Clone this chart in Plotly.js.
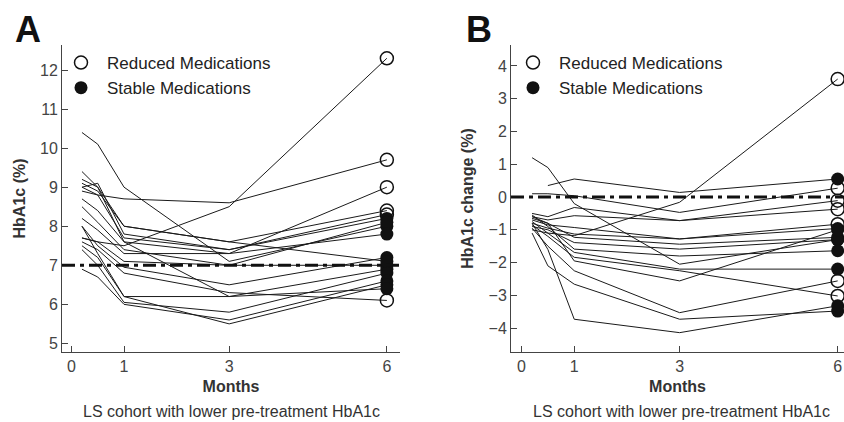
<!DOCTYPE html>
<html>
<head>
<meta charset="utf-8">
<script src="https://cdn.plot.ly/plotly-3.0.1.min.js"></script>
<style>html,body{margin:0;padding:0;background:#fff}#chart{width:844px;height:422px}</style>
</head>
<body>
<div id="chart"></div>
<script>
// Measurement times (months); first point is the pre-treatment baseline visit
const times = [0.2, 0.5, 1, 3, 6];

// Panel A: HbA1c (%) per subject at each time
const hba1cA = [
  [10.4, 10.1, 9.0, 7.1, 8.0],
  [9.0, 8.8, 8.7, 8.6, 9.7],
  [7.7, 7.6, 7.5, 8.5, 12.3],
  [9.4, 9.0, 7.6, 7.3, 9.0],
  [9.2, 9.0, 8.0, 7.6, 8.4],
  [9.0, 9.1, 7.8, 7.4, 8.3],
  [8.9, 8.8, 7.7, 7.4, 8.2],
  [8.5, 8.1, 7.4, 7.0, 8.1],
  [8.2, 7.9, 7.3, 7.3, 7.8],
  [8.0, 7.5, 6.95, 6.5, 7.2],
  [7.7, 7.6, 7.1, 7.0, 7.0],
  [7.6, 7.4, 6.8, 6.3, 6.1],
  [7.5, 7.2, 6.2, 6.2, 6.9],
  [7.4, 7.0, 6.05, 5.8, 6.8],
  [6.9, 6.7, 6.0, 5.6, 6.6],
  [8.0, 7.3, 6.2, 5.5, 6.5],
  [8.7, 8.4, 7.6, 6.2, 6.4],
  [9.1, 8.9, 8.0, 7.6, 7.1]
];
const groupA = ["S","R","R","R","R","R","S","S","S","S","S","R","S","S","S","S","S","S"];

// Panel B: HbA1c change (%) per subject at each time
const changeB = [
  [1.2, 0.9, -0.2, -2.05, -1.3],
  [null, 0.35, 0.55, 0.14, 0.55],
  [-1.0, -1.1, -1.18, -0.16, 3.6],
  [0.1, 0.1, 0.04, -0.47, 0.27],
  [-0.5, -0.6, -0.32, -0.72, -0.11],
  [-0.6, -0.7, -0.57, -0.72, -0.37],
  [-0.7, -0.85, -0.93, -1.28, -0.83],
  [-0.8, -0.95, -1.13, -1.28, -0.96],
  [-0.65, -0.8, -1.23, -1.44, -1.23],
  [-0.9, -1.0, -1.39, -1.59, -1.3],
  [-0.55, -0.9, -1.59, -1.8, -1.64],
  [-0.75, -1.1, -1.69, -2.2, -2.2],
  [-0.85, -1.2, -1.84, -2.25, -3.02],
  [-0.95, -1.5, -2.25, -3.53, -2.56],
  [-1.1, -2.1, -2.66, -3.73, -3.48],
  [-0.8, -1.6, -3.73, -4.14, -3.32],
  [-0.6, -0.8, -1.95, -2.56, -1.0]
];
const groupB = ["S","S","R","R","R","R","R","S","S","S","S","S","R","R","S","S","S"];

const targetA = 7;   // HbA1c target line
const targetB = 0;   // zero change line
const xTicks = [0, 1, 3, 6];
const yTicksA = [5, 6, 7, 8, 9, 10, 11, 12];
const yTicksB = [-4, -3, -2, -1, 0, 1, 2, 3, 4];
const legendNames = {R: "Reduced Medications", S: "Stable Medications"};
const caption = "LS cohort with lower pre-treatment HbA1c";

const FONT = "Liberation Sans, Arial, sans-serif";
const traces = [];
function addPanel(data, groups, xa, ya, legendId) {
  data.forEach(row => {
    traces.push({x: times, y: row, xaxis: xa, yaxis: ya, mode: "lines",
      line: {color: "#1a1a1a", width: 1}, showlegend: false, hoverinfo: "skip", connectgaps: false});
  });
  const last = times.length - 1;
  ["R", "S"].forEach(g => {
    const xs = [], ys = [];
    data.forEach((row, i) => { if (groups[i] === g) { xs.push(times[last]); ys.push(row[last]); } });
    traces.push({x: xs, y: ys, xaxis: xa, yaxis: ya, mode: "markers", name: legendNames[g],
      legend: legendId,
      marker: g === "R"
        ? {symbol: "circle-open", size: 13, color: "#111", line: {width: 1.5, color: "#111"}}
        : {symbol: "circle", size: 13, color: "#111", line: {width: 0}}});
  });
}
addPanel(hba1cA, groupA, "x", "y", "legend");
addPanel(changeB, groupB, "x2", "y2", "legend2");

const tickFont = {family: FONT, size: 16, color: "#444"};
const titleFont = {family: FONT, size: 16, color: "#333"};
function xaxisDef(domain, range) {
  return {domain: domain, range: range, tickvals: xTicks, ticks: "inside", ticklen: 6, tickcolor: "#444",
    showline: true, linecolor: "#444", linewidth: 1, showgrid: false, zeroline: false,
    tickfont: tickFont, title: {text: "<b>Months</b>", font: titleFont, standoff: 6}};
}
function yaxisDef(domain, range, ticks, title, anchor) {
  return {domain: domain, range: range, tickvals: ticks, ticks: "inside", ticklen: 6, tickcolor: "#444",
    showline: true, linecolor: "#444", linewidth: 1, showgrid: false, zeroline: false, anchor: anchor,
    tickfont: tickFont, title: {text: "<b>" + title + "</b>", font: titleFont, standoff: 10}};
}
const W = 844, H = 422;
const yDom = [(H - 352) / H, (H - 45) / H];
const legendFont = {family: FONT, size: 17, color: "#222"};
const layout = {
  width: W, height: H, margin: {l: 0, r: 0, t: 0, b: 0},
  paper_bgcolor: "#fff", plot_bgcolor: "#fff",
  xaxis: Object.assign(xaxisDef([62 / W, 400 / W], [-0.18, 6.25]), {anchor: "y"}),
  yaxis: yaxisDef(yDom, [4.78, 12.64], yTicksA, "HbA1c (%)", "x"),
  xaxis2: Object.assign(xaxisDef([511 / W, 1], [-0.2, 6.12]), {anchor: "y2"}),
  yaxis2: yaxisDef(yDom, [-4.73, 4.64], yTicksB, "HbA1c change (%)", "x2"),
  legend: {x: 55 / W, y: (H - 45) / H, xanchor: "left", yanchor: "top", bgcolor: "rgba(0,0,0,0)",
    itemwidth: 42, tracegroupgap: 0, font: legendFont},
  legend2: {x: 507 / W, y: (H - 45) / H, xanchor: "left", yanchor: "top", bgcolor: "rgba(0,0,0,0)",
    itemwidth: 42, tracegroupgap: 0, font: legendFont},
  shapes: [
    {type: "line", xref: "x domain", yref: "y", x0: 0, x1: 1, y0: targetA, y1: targetA,
      line: {color: "#111", width: 3, dash: "13px,5px,4px,5px"}},
    {type: "line", xref: "x2 domain", yref: "y2", x0: 0, x1: 1, y0: targetB, y1: targetB,
      line: {color: "#111", width: 3, dash: "13px,5px,4px,5px"}}
  ],
  annotations: [
    {text: "<b>A</b>", xref: "paper", yref: "paper", x: 28 / W, y: (H - 30) / H, xanchor: "center", yanchor: "middle",
      showarrow: false, font: {family: FONT, size: 36, color: "#111"}},
    {text: "<b>B</b>", xref: "paper", yref: "paper", x: 479 / W, y: (H - 30) / H, xanchor: "center", yanchor: "middle",
      showarrow: false, font: {family: FONT, size: 36, color: "#111"}},
    {text: caption, xref: "paper", yref: "paper", x: 231 / W, y: (H - 411) / H, xanchor: "center", yanchor: "middle",
      showarrow: false, font: {family: FONT, size: 16, color: "#333"}},
    {text: caption, xref: "paper", yref: "paper", x: 681 / W, y: (H - 411) / H, xanchor: "center", yanchor: "middle",
      showarrow: false, font: {family: FONT, size: 16, color: "#333"}}
  ],
  showlegend: true
};
Plotly.newPlot("chart", traces, layout, {staticPlot: true, displayModeBar: false});
</script>
</body>
</html>
